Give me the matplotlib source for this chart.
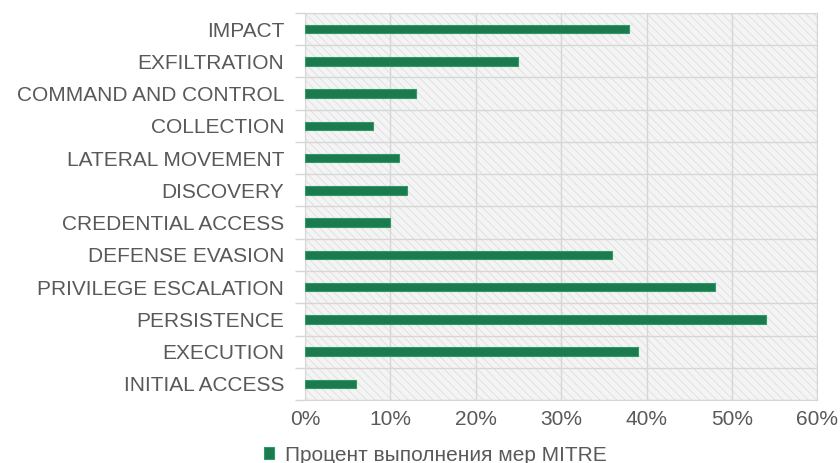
import numpy as np
from matplotlib import pyplot as plt
from matplotlib.patches import Rectangle
from matplotlib.ticker import FuncFormatter, FixedLocator

tactics = ['INITIAL ACCESS', 'EXECUTION', 'PERSISTENCE', 'PRIVILEGE ESCALATION',
           'DEFENSE EVASION', 'CREDENTIAL ACCESS', 'DISCOVERY', 'LATERAL MOVEMENT',
           'COLLECTION', 'COMMAND AND CONTROL', 'EXFILTRATION', 'IMPACT']
percent = [6, 39, 54, 48, 36, 10, 12, 11, 8, 13, 25, 38]
x_ticks = [0, 10, 20, 30, 40, 50, 60]
series_label = 'Процент выполнения мер MITRE'

plt.rcParams['font.family'] = ['Liberation Sans', 'DejaVu Sans']
plt.rcParams['hatch.linewidth'] = 0.6
plt.rcParams['hatch.color'] = '#dcdcdc'

text_col = '#595959'
grid_col = '#d6d6d6'
bar_col = '#1b7a4e'
fs = 15

fig = plt.figure(figsize=(8.4, 4.63), dpi=100)
ax = fig.add_axes([0.363, 0.136, 0.61, 0.836])
ax.set_facecolor('#f4f4f4')
ax.add_patch(Rectangle((0, 0), 1, 1, transform=ax.transAxes, facecolor='none',
                       edgecolor='#dedede', hatch='\\\\\\\\', linewidth=0, zorder=0))

y = np.arange(len(tactics))
bars = ax.barh(y, percent, height=0.27, color=bar_col, edgecolor='#2f9a68',
               linewidth=0.8, zorder=3, label=series_label)

ax.set_xlim(0, 60)
ax.set_ylim(-0.5, len(tactics) - 0.5)
ax.set_xticks(x_ticks)
ax.xaxis.set_major_formatter(FuncFormatter(lambda v, p: '{:d}%'.format(int(v))))
ax.set_yticks(y)
ax.set_yticklabels(tactics)
ax.yaxis.set_minor_locator(FixedLocator(np.arange(-0.5, len(tactics), 1.0)))

ax.grid(True, axis='x', which='major', color=grid_col, linewidth=1.0, zorder=1)
ax.grid(True, axis='y', which='minor', color=grid_col, linewidth=1.0, zorder=1)
ax.grid(False, axis='y', which='major')

ax.tick_params(axis='y', which='major', length=0, pad=15, labelsize=fs, labelcolor=text_col)
ax.tick_params(axis='y', which='minor', length=7, width=1, color=grid_col)
ax.tick_params(axis='x', length=0, pad=7, labelsize=fs, labelcolor=text_col)
for s in ['top', 'right', 'bottom', 'left']:
    ax.spines[s].set_color(grid_col)

fig.legend(handles=[bars], labels=[series_label], loc='center',
           bbox_to_anchor=(0.518, 0.017), frameon=False, fontsize=fs,
           labelcolor=text_col, handlelength=0.5, handleheight=0.5, handletextpad=0.5)

plt.savefig('out.png', dpi=100)
